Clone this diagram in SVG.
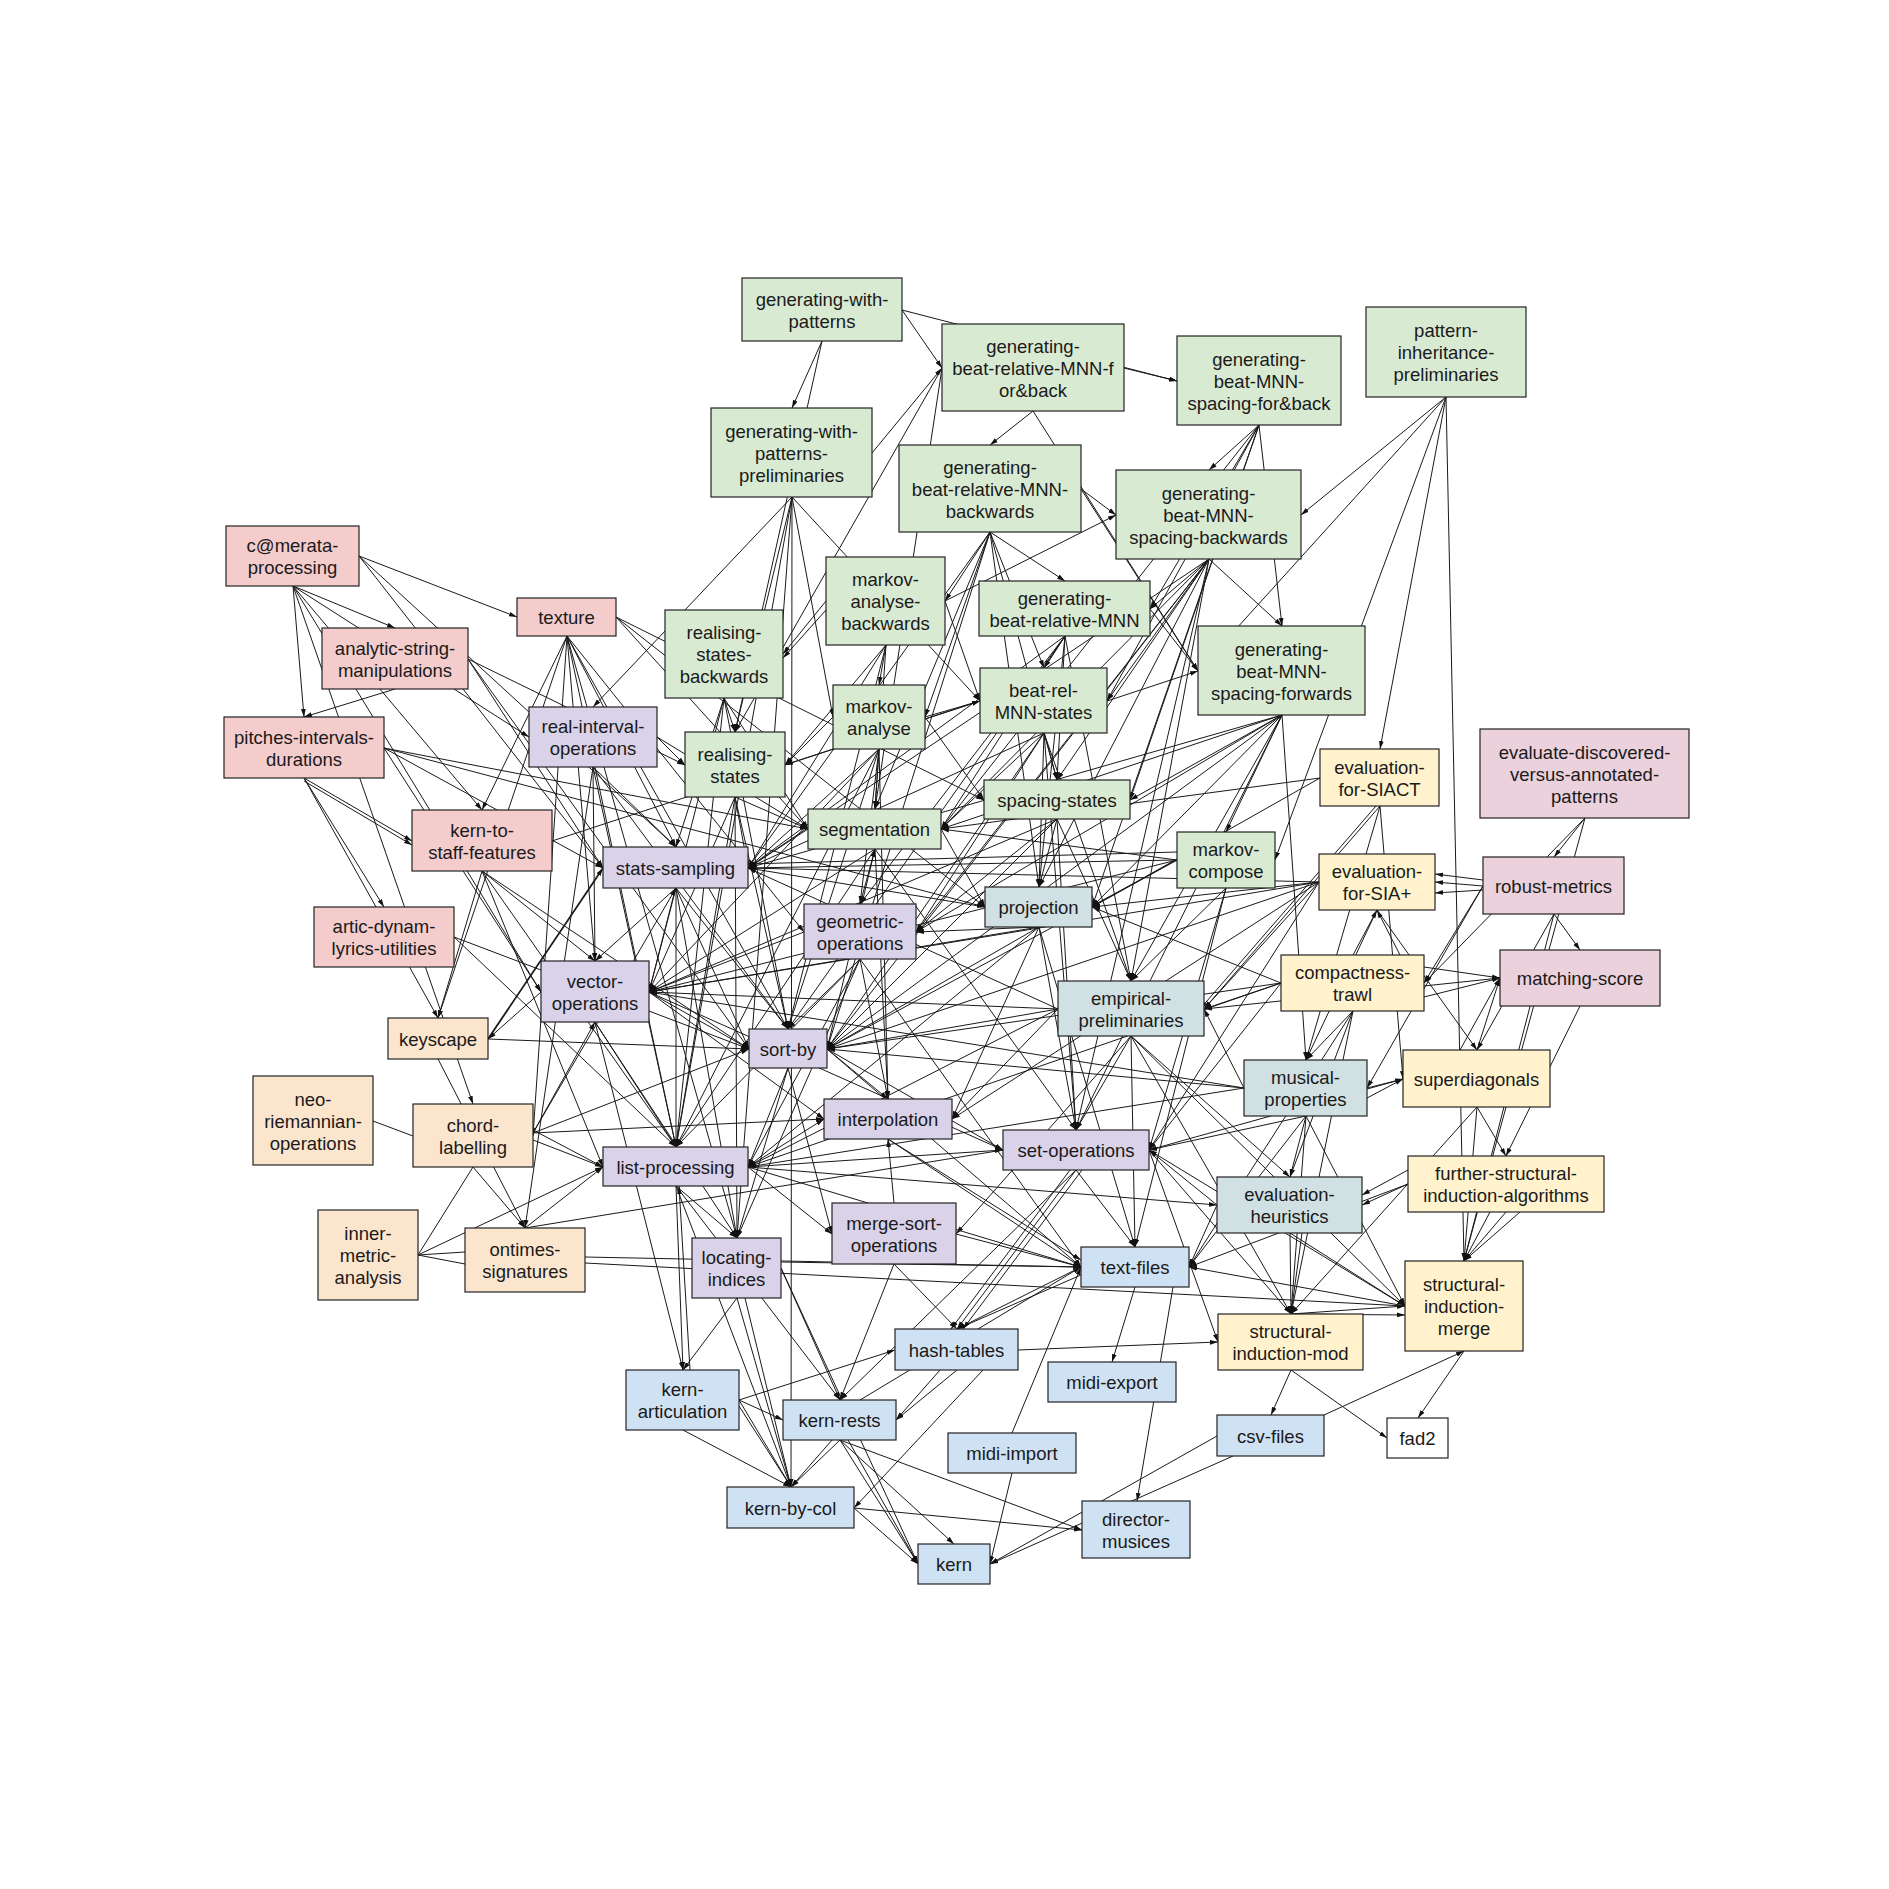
<svg xmlns="http://www.w3.org/2000/svg" width="1889" height="1889" viewBox="0 0 1889 1889">
<style>
  .nd rect { stroke: #222; stroke-width: 1.2; }
  .t { font-family: "Liberation Sans", Arial, sans-serif; font-size: 18.5px; fill: #1a1a1a; text-anchor: middle; }
  .g { fill: #d9ead3; } .r { fill: #f4cccc; } .p { fill: #d9d2e9; } .o { fill: #fce5cd; }
  .y { fill: #fff2cc; } .b { fill: #cfe2f3; } .s { fill: #d0e0e3; } .m { fill: #ead1dc; } .w { fill: #ffffff; }
  #connectors path { fill: none; stroke: #1a1a1a; stroke-width: 1; marker-end: url(#ah); }
  #connectors path.na { marker-end: none; }
  #connectors path.bold { stroke-width: 1.8; }
</style>
<defs>
  <marker id="ah" viewBox="0 0 10 10" refX="10" refY="5" markerWidth="8" markerHeight="8" markerUnits="userSpaceOnUse" orient="auto">
    <path d="M0,2 L10,5 L0,8 z" fill="#111"/>
  </marker>
</defs>
<rect x="0" y="0" width="1889" height="1889" fill="#ffffff"/>

<g id="connectors">
  <!-- generating cluster -->
  <path d="M822 341 L792 408"/>
  <path d="M822 341 L735 732"/>
  <path d="M902 310 L942 368"/>
  <path d="M902 310 L1177 381"/>
  <path d="M1124 368 L1177 381"/>
  <path d="M1033 411 L990 445"/>
  <path d="M1033 411 L1198 671"/>
  <path d="M872 453 L942 368"/>
  <path d="M942 368 L875 809"/>
  <path d="M942 368 L735 732"/>
  <path d="M792 497 L593 707"/>
  <path d="M792 497 L791 1487"/>
  <path d="M792 497 L833 717"/>
  <path d="M792 497 L980 701"/>
  <path d="M792 497 L735 732"/>
  <path d="M792 497 L737 1238"/>
  <path d="M792 497 L676 1147"/>
  <path d="M990 532 L1065 581"/>
  <path d="M990 532 L945 601"/>
  <path d="M990 532 L875 809"/>
  <path d="M990 532 L925 717"/>
  <path d="M990 532 L748 868"/>
  <path d="M990 532 L1044 668"/>
  <path d="M990 532 L1057 780"/>
  <path d="M990 532 L1039 887"/>
  <path d="M990 532 L827 1049"/>
  <path d="M1081 489 L1116 515"/>
  <path d="M1081 489 L1198 671"/>
  <path d="M945 601 L1116 515"/>
  <path d="M1259 425 L1209 470"/>
  <path d="M1259 425 L1282 626"/>
  <path d="M1259 425 L1150 609"/>
  <path d="M1259 425 L1107 701"/>
  <path d="M1259 425 L1130 800"/>
  <path d="M1259 425 L941 829"/>
  <path d="M1259 425 L1092 907"/>
  <path d="M1209 559 L1282 626"/>
  <path d="M1209 559 L941 829"/>
  <path d="M1209 559 L1039 887"/>
  <path d="M1209 559 L748 868"/>
  <path d="M1209 559 L827 1049"/>
  <path d="M1209 559 L916 932"/>
  <path d="M1209 559 L1131 981"/>
  <path d="M1209 559 L1076 1130"/>
  <path d="M1209 559 L1057 780"/>
  <path d="M1209 559 L1107 701"/>
  <path d="M1209 559 L1150 609"/>
  <path d="M1446 397 L1301 515"/>
  <path d="M1446 397 L1198 671"/>
  <path d="M1446 397 L1275 860"/>
  <path d="M1446 397 L1380 749"/>
  <path d="M1446 397 L1464 1261"/>
  <path d="M886 645 L879 685"/>
  <path d="M826 601 L783 654"/>
  <path d="M826 610 L783 658"/>
  <path d="M886 645 L875 809"/>
  <path d="M886 645 L748 868"/>
  <path d="M886 645 L785 765"/>
  <path d="M945 601 L980 701"/>
  <path d="M886 645 L788 1029"/>
  <path d="M1065 636 L1044 668"/>
  <path d="M1065 636 L1057 780"/>
  <path d="M1065 636 L1039 887"/>
  <path d="M1065 636 L941 829"/>
  <path d="M1065 636 L748 868"/>
  <path d="M1065 636 L860 904"/>
  <path d="M1065 636 L788 1029"/>
  <path d="M1065 636 L1131 981"/>
  <path d="M1150 609 L1198 671"/>
  <path d="M724 698 L735 732"/>
  <path d="M724 698 L676 847"/>
  <path d="M724 698 L808 829"/>
  <path d="M724 698 L649 992"/>
  <path d="M724 698 L676 1147"/>
  <path d="M724 698 L788 1029"/>
  <!-- left cluster -->
  <path d="M359 556 L517 617"/>
  <path d="M567 636 L482 810"/>
  <path d="M567 636 L438 1018"/>
  <path d="M567 636 L533 1136"/>
  <path d="M567 636 L595 961"/>
  <path d="M567 636 L676 1147"/>
  <path d="M567 636 L737 1238"/>
  <path d="M567 636 L676 847"/>
  <path d="M567 636 L788 1029"/>
  <path d="M567 636 L804 932"/>
  <path d="M616 617 L985 907"/>
  <path d="M616 617 L808 829"/>
  <path d="M616 617 L984 800"/>
  <path d="M359 556 L676 847"/>
  <path d="M293 586 L304 717"/>
  <path d="M293 586 L395 628"/>
  <path d="M293 586 L482 810"/>
  <path d="M293 586 L529 737"/>
  <path d="M293 586 L473 1104"/>
  <path d="M293 586 L541 992"/>
  <path d="M359 556 L603 868"/>
  <path d="M395 689 L304 717"/>
  <path d="M468 659 L603 868"/>
  <path d="M468 659 L685 765"/>
  <path d="M468 659 L749 1049"/>
  <path d="M384 748 L808 829"/>
  <path d="M384 748 L985 907"/>
  <path d="M384 748 L541 992"/>
  <path d="M384 748 L603 868"/>
  <path d="M304 778 L384 907"/>
  <path d="M304 778 L412 841"/>
  <path d="M304 781 L412 845"/>
  <path d="M304 778 L438 1018"/>
  <path d="M482 871 L438 1018"/>
  <path d="M482 871 L595 961"/>
  <path d="M482 871 L749 1049"/>
  <path d="M482 871 L676 1147"/>
  <path d="M482 871 L603 1167"/>
  <path d="M552 841 L980 701"/>
  <path d="M454 937 L676 1147"/>
  <path d="M454 937 L749 1049"/>
  <path class="bold" d="M488 1039 L603 868"/>
  <path d="M488 1039 L749 1049"/>
  <path d="M541 992 L488 1039"/>
  <path d="M438 1059 L525 1228"/>
  <path d="M593 767 L525 1228"/>
  <path d="M593 767 L676 847"/>
  <path d="M593 767 L676 1147"/>
  <path d="M593 767 L595 961"/>
  <path d="M593 767 L788 1029"/>
  <path d="M657 737 L808 829"/>
  <path d="M657 737 L685 765"/>
  <!-- middle cluster -->
  <path d="M833 717 L785 765"/>
  <path d="M980 701 L785 765"/>
  <path d="M735 797 L748 868"/>
  <path d="M735 797 L788 1029"/>
  <path d="M735 797 L649 992"/>
  <path d="M735 797 L676 1147"/>
  <path d="M735 797 L808 829"/>
  <path d="M735 797 L737 1238"/>
  <path d="M879 749 L875 809"/>
  <path d="M879 749 L748 868"/>
  <path d="M879 749 L788 1029"/>
  <path d="M879 749 L860 904"/>
  <path d="M879 749 L649 992"/>
  <path d="M879 749 L888 1099"/>
  <path d="M879 749 L676 1147"/>
  <path d="M925 717 L980 701"/>
  <path d="M925 717 L984 800"/>
  <path d="M1044 733 L941 829"/>
  <path d="M1044 733 L1057 780"/>
  <path d="M1044 733 L1039 887"/>
  <path d="M1044 733 L748 868"/>
  <path d="M1044 733 L827 1049"/>
  <path d="M1044 733 L916 932"/>
  <path d="M1044 733 L1131 981"/>
  <path d="M1044 733 L1076 1130"/>
  <path d="M1107 701 L1198 671"/>
  <path d="M1057 819 L1131 981"/>
  <path d="M1057 819 L1076 1130"/>
  <path d="M1057 819 L1039 887"/>
  <path d="M1057 819 L827 1049"/>
  <path d="M1057 819 L916 932"/>
  <path d="M1057 819 L649 992"/>
  <path d="M875 849 L827 1049"/>
  <path d="M875 849 L888 1099"/>
  <path d="M875 849 L649 992"/>
  <path d="M875 849 L676 1147"/>
  <path d="M875 849 L1076 1130"/>
  <path d="M860 904 L875 849"/>
  <path d="M941 829 L985 907"/>
  <path d="M808 829 L748 868"/>
  <path d="M1039 927 L827 1049"/>
  <path d="M1039 927 L916 932"/>
  <path d="M1039 927 L1076 1130"/>
  <path d="M1039 927 L952 1119"/>
  <path d="M1039 927 L649 992"/>
  <path d="M1039 927 L748 1167"/>
  <path d="M748 868 L985 907"/>
  <path d="M1177 860 L1092 907"/>
  <path d="M1319 882 L1092 907"/>
  <path d="M1281 983 L1092 907"/>
  <path d="M860 959 L788 1029"/>
  <path d="M860 959 L748 1167"/>
  <path d="M860 959 L888 1099"/>
  <path d="M860 959 L737 1238"/>
  <path d="M804 932 L649 992"/>
  <path d="M860 959 L676 1147"/>
  <path d="M1177 860 L748 868"/>
  <path d="M1177 852 L748 864"/>
  <path d="M1177 860 L941 829"/>
  <path d="M1177 860 L649 992"/>
  <path d="M1177 860 L827 1049"/>
  <path d="M1282 715 L1226 832"/>
  <path d="M1226 888 L1131 981"/>
  <path d="M1226 888 L1149 1150"/>
  <path d="M1226 888 L1135 1247"/>
  <path d="M1282 715 L1130 800"/>
  <path d="M1282 715 L1092 907"/>
  <path d="M1282 715 L1131 981"/>
  <path d="M1282 715 L941 829"/>
  <path d="M1282 715 L916 932"/>
  <path d="M1282 715 L827 1049"/>
  <path d="M1282 715 L1076 1130"/>
  <path d="M1282 715 L748 868"/>
  <path d="M1282 715 L1306 1060"/>
  <!-- evaluation cluster -->
  <path d="M1380 806 L1204 1009"/>
  <path d="M1376 806 L1200 1009"/>
  <path d="M1380 806 L1306 1060"/>
  <path d="M1380 806 L1403 1079"/>
  <path d="M1320 778 L941 829"/>
  <path d="M1320 778 L1092 907"/>
  <path d="M1319 882 L1204 1009"/>
  <path d="M1319 882 L748 868"/>
  <path d="M1319 882 L827 1049"/>
  <path d="M1319 882 L1149 1150"/>
  <path d="M1319 882 L952 1119"/>
  <path d="M1483 886 L1435 882"/>
  <path d="M1483 880 L1435 874"/>
  <path d="M1483 890 L1435 893"/>
  <path d="M1353 955 L1377 910"/>
  <path d="M1400 955 L1377 910"/>
  <path d="M1377 910 L1306 1060"/>
  <path d="M1377 910 L1477 1050"/>
  <path d="M1585 818 L1554 857"/>
  <path d="M1585 818 L1424 983"/>
  <path d="M1585 818 L1464 1261"/>
  <path d="M1554 914 L1580 950"/>
  <path d="M1554 914 L1477 1050"/>
  <path d="M1554 914 L1464 1261"/>
  <path d="M1483 886 L1424 983"/>
  <path d="M1483 886 L1367 1088"/>
  <path d="M1424 967 L1500 978"/>
  <path d="M1424 997 L1500 978"/>
  <path d="M1477 1050 L1500 978"/>
  <path d="M1460 1050 L1500 978"/>
  <path d="M1580 1006 L1506 1156"/>
  <path d="M1500 978 L1204 1009"/>
  <path d="M1281 983 L1204 1009"/>
  <path d="M1281 983 L1149 1150"/>
  <path d="M1353 1011 L1306 1060"/>
  <path d="M1353 1011 L1290 1177"/>
  <path d="M1353 1011 L1291 1314"/>
  <path d="M1353 1011 L1189 1267"/>
  <path d="M1131 1036 L1076 1130"/>
  <path d="M1131 1036 L1135 1247"/>
  <path d="M1058 1009 L827 1049"/>
  <path d="M1058 1009 L649 992"/>
  <path d="M1058 1009 L748 1167"/>
  <path d="M1058 1009 L952 1119"/>
  <path d="M1131 1036 L1291 1314"/>
  <path d="M1131 1036 L1290 1177"/>
  <path d="M1131 1036 L1405 1306"/>
  <path d="M1131 1036 L956 1234"/>
  <path d="M1367 1088 L1403 1079"/>
  <path d="M1367 1098 L1403 1079"/>
  <path d="M1306 1116 L1290 1177"/>
  <path d="M1306 1116 L1291 1314"/>
  <path d="M1306 1116 L1189 1267"/>
  <path d="M1306 1116 L1149 1150"/>
  <path d="M1244 1088 L827 1049"/>
  <path d="M1244 1088 L1204 1009"/>
  <path d="M1306 1116 L1405 1306"/>
  <path d="M1477 1107 L1464 1261"/>
  <path d="M1477 1107 L1506 1156"/>
  <path d="M1477 1107 L1291 1314"/>
  <path d="M1403 1079 L1149 1150"/>
  <path d="M1506 1212 L1464 1261"/>
  <path d="M1490 1212 L1464 1261"/>
  <path d="M1520 1212 L1464 1261"/>
  <path d="M1408 1184 L1362 1205"/>
  <path d="M1408 1170 L1362 1195"/>
  <path d="M1408 1184 L1189 1267"/>
  <path d="M1290 1233 L1291 1314"/>
  <path d="M1302 1233 L1291 1314"/>
  <path d="M1217 1205 L1189 1267"/>
  <path d="M1217 1205 L1149 1150"/>
  <path d="M1290 1233 L1405 1306"/>
  <path d="M1291 1370 L1271 1415"/>
  <path d="M1291 1370 L1387 1438"/>
  <path d="M1291 1314 L1405 1306"/>
  <path d="M1291 1314 L1405 1315"/>
  <path d="M1149 1150 L1218 1342"/>
  <path d="M1149 1150 L1291 1314"/>
  <path d="M1464 1351 L1418 1418"/>
  <path d="M1324 1415 L1464 1351"/>
  <path d="M1405 1306 L1189 1267"/>
  <path d="M1405 1306 L1149 1150"/>
  <!-- lower cluster -->
  <path d="M1135 1287 L1112 1362"/>
  <path d="M1173 1287 L1137 1501"/>
  <path d="M1081 1267 L957 1329"/>
  <path d="M1081 1275 L957 1329"/>
  <path d="M1076 1170 L957 1329"/>
  <path d="M1070 1170 L951 1329"/>
  <path d="M1082 1170 L963 1329"/>
  <path d="M748 1167 L1003 1150"/>
  <path d="M1076 1170 L1135 1247"/>
  <path d="M1076 1170 L840 1400"/>
  <path d="M894 1203 L888 1139"/>
  <path d="M888 1139 L1081 1267"/>
  <path d="M888 1139 L1081 1260"/>
  <path d="M748 1167 L824 1119"/>
  <path d="M676 1186 L683 1370"/>
  <path d="M690 1370 L679 1186"/>
  <path d="M676 1186 L737 1238"/>
  <path d="M676 1186 L791 1487"/>
  <path d="M676 1186 L840 1400"/>
  <path d="M748 1167 L1081 1267"/>
  <path d="M748 1167 L832 1234"/>
  <path d="M748 1167 L1217 1205"/>
  <path d="M737 1298 L791 1487"/>
  <path d="M745 1298 L791 1487"/>
  <path d="M737 1298 L683 1370"/>
  <path d="M781 1268 L918 1564"/>
  <path d="M781 1268 L840 1400"/>
  <path d="M781 1262 L1081 1267"/>
  <path d="M894 1264 L957 1329"/>
  <path d="M894 1264 L840 1400"/>
  <path d="M956 1234 L1081 1267"/>
  <path d="M739 1400 L895 1350"/>
  <path d="M1018 1350 L1218 1342"/>
  <path d="M957 1370 L896 1420"/>
  <path d="M940 1370 L896 1420"/>
  <path d="M983 1370 L854 1508"/>
  <path d="M739 1400 L791 1487"/>
  <path d="M739 1406 L791 1487"/>
  <path d="M739 1400 L783 1420"/>
  <path d="M683 1430 L791 1487"/>
  <path d="M840 1440 L791 1487"/>
  <path d="M832 1440 L791 1487"/>
  <path d="M840 1440 L918 1564"/>
  <path d="M848 1440 L918 1564"/>
  <path d="M840 1440 L954 1544"/>
  <path d="M840 1440 L1082 1530"/>
  <path d="M854 1508 L1082 1530"/>
  <path d="M854 1508 L918 1564"/>
  <path d="M1012 1473 L990 1564"/>
  <path d="M1012 1433 L1081 1267"/>
  <path d="M1217 1436 L990 1564"/>
  <path d="M1233 1456 L990 1564"/>
  <path d="M788 1068 L748 1167"/>
  <path d="M788 1068 L737 1238"/>
  <path d="M827 1049 L888 1099"/>
  <path d="M827 1049 L1003 1150"/>
  <path d="M827 1049 L1081 1267"/>
  <path d="M788 1068 L832 1234"/>
  <path d="M649 992 L749 1049"/>
  <path d="M649 992 L824 1119"/>
  <path d="M649 992 L1003 1150"/>
  <path d="M595 1022 L676 1147"/>
  <path d="M595 1022 L737 1238"/>
  <path d="M595 1022 L683 1370"/>
  <path d="M676 888 L649 992"/>
  <path d="M676 888 L676 1147"/>
  <path d="M676 888 L788 1029"/>
  <path d="M676 888 L749 1049"/>
  <path d="M676 888 L737 1238"/>
  <path d="M676 888 L595 961"/>
  <path d="M1244 1088 L748 1167"/>
  <path d="M1244 1088 L649 992"/>
  <path d="M1281 983 L748 1167"/>
  <path d="M1281 983 L827 1049"/>
  <path d="M1319 882 L649 992"/>
  <path d="M1058 1009 L748 868"/>
  <path d="M860 959 L1081 1267"/>
  <path d="M860 1400 L1081 1267"/>
  <path d="M1039 927 L1135 1247"/>
  <!-- chord, onset and metre links -->
  <path d="M533 1130 L603 1167"/>
  <path d="M533 1140 L603 1167"/>
  <path d="M533 1133 L595 1022"/>
  <path d="M533 1133 L676 888"/>
  <path d="M533 1133 L749 1049"/>
  <path d="M533 1133 L824 1119"/>
  <path d="M473 1167 L525 1228"/>
  <path class="na" d="M473 1167 L418 1255"/>
  <path class="na" d="M418 1255 L465 1252"/>
  <path class="na" d="M418 1255 L465 1264"/>
  <path d="M418 1255 L603 1167"/>
  <path d="M525 1228 L603 1167"/>
  <path class="na" d="M525 1228 L1003 1150"/>
  <path class="na" d="M585 1257 L1081 1267"/>
  <path class="na" d="M585 1263 L1405 1306"/>
  <path class="na" d="M373 1121 L413 1136"/>
</g>

<g id="n-generating-with-patterns" class="nd"><rect class="g" x="742" y="278" width="160" height="63"/><text class="t" x="822" y="305.5"><tspan x="822">generating-with-</tspan><tspan x="822" dy="22">patterns</tspan></text></g>
<g id="n-generating-beat-relative-MNN-for-back" class="nd"><rect class="g" x="942" y="324" width="182" height="87"/><text class="t" x="1033" y="352.5"><tspan x="1033">generating-</tspan><tspan x="1033" dy="22">beat-relative-MNN-f</tspan><tspan x="1033" dy="22">or&amp;back</tspan></text></g>
<g id="n-generating-beat-MNN-spacing-for-back" class="nd"><rect class="g" x="1177" y="336" width="164" height="89"/><text class="t" x="1259" y="365.5"><tspan x="1259">generating-</tspan><tspan x="1259" dy="22">beat-MNN-</tspan><tspan x="1259" dy="22">spacing-for&amp;back</tspan></text></g>
<g id="n-pattern-inheritance-preliminaries" class="nd"><rect class="g" x="1366" y="307" width="160" height="90"/><text class="t" x="1446" y="337"><tspan x="1446">pattern-</tspan><tspan x="1446" dy="22">inheritance-</tspan><tspan x="1446" dy="22">preliminaries</tspan></text></g>
<g id="n-generating-with-patterns-preliminaries" class="nd"><rect class="g" x="711" y="408" width="161" height="89"/><text class="t" x="791.5" y="437.5"><tspan x="791.5">generating-with-</tspan><tspan x="791.5" dy="22">patterns-</tspan><tspan x="791.5" dy="22">preliminaries</tspan></text></g>
<g id="n-generating-beat-relative-MNN-backwards" class="nd"><rect class="g" x="899" y="445" width="182" height="87"/><text class="t" x="990" y="473.5"><tspan x="990">generating-</tspan><tspan x="990" dy="22">beat-relative-MNN-</tspan><tspan x="990" dy="22">backwards</tspan></text></g>
<g id="n-generating-beat-MNN-spacing-backwards" class="nd"><rect class="g" x="1116" y="470" width="185" height="89"/><text class="t" x="1208.5" y="499.5"><tspan x="1208.5">generating-</tspan><tspan x="1208.5" dy="22">beat-MNN-</tspan><tspan x="1208.5" dy="22">spacing-backwards</tspan></text></g>
<g id="n-camerata-processing" class="nd"><rect class="r" x="226" y="526" width="133" height="60"/><text class="t" x="292.5" y="552"><tspan x="292.5">c@merata-</tspan><tspan x="292.5" dy="22">processing</tspan></text></g>
<g id="n-texture" class="nd"><rect class="r" x="517" y="598" width="99" height="38"/><text class="t" x="566.5" y="624">texture</text></g>
<g id="n-analytic-string-manipulations" class="nd"><rect class="r" x="322" y="628" width="146" height="61"/><text class="t" x="395" y="654.5"><tspan x="395">analytic-string-</tspan><tspan x="395" dy="22">manipulations</tspan></text></g>
<g id="n-markov-analyse-backwards" class="nd"><rect class="g" x="826" y="557" width="119" height="88"/><text class="t" x="885.5" y="586"><tspan x="885.5">markov-</tspan><tspan x="885.5" dy="22">analyse-</tspan><tspan x="885.5" dy="22">backwards</tspan></text></g>
<g id="n-generating-beat-relative-MNN" class="nd"><rect class="g" x="979" y="581" width="171" height="55"/><text class="t" x="1064.5" y="604.5"><tspan x="1064.5">generating-</tspan><tspan x="1064.5" dy="22">beat-relative-MNN</tspan></text></g>
<g id="n-realising-states-backwards" class="nd"><rect class="g" x="665" y="610" width="118" height="88"/><text class="t" x="724" y="639"><tspan x="724">realising-</tspan><tspan x="724" dy="22">states-</tspan><tspan x="724" dy="22">backwards</tspan></text></g>
<g id="n-generating-beat-MNN-spacing-forwards" class="nd"><rect class="g" x="1198" y="626" width="167" height="89"/><text class="t" x="1281.5" y="655.5"><tspan x="1281.5">generating-</tspan><tspan x="1281.5" dy="22">beat-MNN-</tspan><tspan x="1281.5" dy="22">spacing-forwards</tspan></text></g>
<g id="n-pitches-intervals-durations" class="nd"><rect class="r" x="224" y="717" width="160" height="61"/><text class="t" x="304" y="743.5"><tspan x="304">pitches-intervals-</tspan><tspan x="304" dy="22">durations</tspan></text></g>
<g id="n-real-interval-operations" class="nd"><rect class="p" x="529" y="707" width="128" height="60"/><text class="t" x="593" y="733"><tspan x="593">real-interval-</tspan><tspan x="593" dy="22">operations</tspan></text></g>
<g id="n-markov-analyse" class="nd"><rect class="g" x="833" y="685" width="92" height="64"/><text class="t" x="879" y="713"><tspan x="879">markov-</tspan><tspan x="879" dy="22">analyse</tspan></text></g>
<g id="n-beat-rel-MNN-states" class="nd"><rect class="g" x="980" y="668" width="127" height="65"/><text class="t" x="1043.5" y="696.5"><tspan x="1043.5">beat-rel-</tspan><tspan x="1043.5" dy="22">MNN-states</tspan></text></g>
<g id="n-realising-states" class="nd"><rect class="g" x="685" y="732" width="100" height="65"/><text class="t" x="735" y="760.5"><tspan x="735">realising-</tspan><tspan x="735" dy="22">states</tspan></text></g>
<g id="n-evaluation-for-SIACT" class="nd"><rect class="y" x="1320" y="749" width="119" height="57"/><text class="t" x="1379.5" y="773.5"><tspan x="1379.5">evaluation-</tspan><tspan x="1379.5" dy="22">for-SIACT</tspan></text></g>
<g id="n-evaluate-discovered-versus-annotated-patterns" class="nd"><rect class="m" x="1480" y="729" width="209" height="89"/><text class="t" x="1584.5" y="758.5"><tspan x="1584.5">evaluate-discovered-</tspan><tspan x="1584.5" dy="22">versus-annotated-</tspan><tspan x="1584.5" dy="22">patterns</tspan></text></g>
<g id="n-spacing-states" class="nd"><rect class="g" x="984" y="780" width="146" height="39"/><text class="t" x="1057" y="806.5">spacing-states</text></g>
<g id="n-segmentation" class="nd"><rect class="g" x="808" y="809" width="133" height="40"/><text class="t" x="874.5" y="836">segmentation</text></g>
<g id="n-kern-to-staff-features" class="nd"><rect class="r" x="412" y="810" width="140" height="61"/><text class="t" x="482" y="836.5"><tspan x="482">kern-to-</tspan><tspan x="482" dy="22">staff-features</tspan></text></g>
<g id="n-stats-sampling" class="nd"><rect class="p" x="603" y="847" width="145" height="41"/><text class="t" x="675.5" y="874.5">stats-sampling</text></g>
<g id="n-markov-compose" class="nd"><rect class="g" x="1177" y="832" width="98" height="56"/><text class="t" x="1226" y="856"><tspan x="1226">markov-</tspan><tspan x="1226" dy="22">compose</tspan></text></g>
<g id="n-evaluation-for-SIA-plus" class="nd"><rect class="y" x="1319" y="854" width="116" height="56"/><text class="t" x="1377" y="878"><tspan x="1377">evaluation-</tspan><tspan x="1377" dy="22">for-SIA+</tspan></text></g>
<g id="n-robust-metrics" class="nd"><rect class="m" x="1483" y="857" width="141" height="57"/><text class="t" x="1553.5" y="892.5">robust-metrics</text></g>
<g id="n-projection" class="nd"><rect class="s" x="985" y="887" width="107" height="40"/><text class="t" x="1038.5" y="914">projection</text></g>
<g id="n-geometric-operations" class="nd"><rect class="p" x="804" y="904" width="112" height="55"/><text class="t" x="860" y="927.5"><tspan x="860">geometric-</tspan><tspan x="860" dy="22">operations</tspan></text></g>
<g id="n-artic-dynam-lyrics-utilities" class="nd"><rect class="r" x="314" y="907" width="140" height="60"/><text class="t" x="384" y="933"><tspan x="384">artic-dynam-</tspan><tspan x="384" dy="22">lyrics-utilities</tspan></text></g>
<g id="n-matching-score" class="nd"><rect class="m" x="1500" y="950" width="160" height="56"/><text class="t" x="1580" y="985">matching-score</text></g>
<g id="n-compactness-trawl" class="nd"><rect class="y" x="1281" y="955" width="143" height="56"/><text class="t" x="1352.5" y="979"><tspan x="1352.5">compactness-</tspan><tspan x="1352.5" dy="22">trawl</tspan></text></g>
<g id="n-vector-operations" class="nd"><rect class="p" x="541" y="961" width="108" height="61"/><text class="t" x="595" y="987.5"><tspan x="595">vector-</tspan><tspan x="595" dy="22">operations</tspan></text></g>
<g id="n-empirical-preliminaries" class="nd"><rect class="s" x="1058" y="981" width="146" height="55"/><text class="t" x="1131" y="1004.5"><tspan x="1131">empirical-</tspan><tspan x="1131" dy="22">preliminaries</tspan></text></g>
<g id="n-keyscape" class="nd"><rect class="o" x="388" y="1018" width="100" height="41"/><text class="t" x="438" y="1045.5">keyscape</text></g>
<g id="n-sort-by" class="nd"><rect class="p" x="749" y="1029" width="78" height="39"/><text class="t" x="788" y="1055.5">sort-by</text></g>
<g id="n-musical-properties" class="nd"><rect class="s" x="1244" y="1060" width="123" height="56"/><text class="t" x="1305.5" y="1084"><tspan x="1305.5">musical-</tspan><tspan x="1305.5" dy="22">properties</tspan></text></g>
<g id="n-superdiagonals" class="nd"><rect class="y" x="1403" y="1050" width="147" height="57"/><text class="t" x="1476.5" y="1085.5">superdiagonals</text></g>
<g id="n-neo-riemannian-operations" class="nd"><rect class="o" x="253" y="1076" width="120" height="89"/><text class="t" x="313" y="1105.5"><tspan x="313">neo-</tspan><tspan x="313" dy="22">riemannian-</tspan><tspan x="313" dy="22">operations</tspan></text></g>
<g id="n-chord-labelling" class="nd"><rect class="o" x="413" y="1104" width="120" height="63"/><text class="t" x="473" y="1131.5"><tspan x="473">chord-</tspan><tspan x="473" dy="22">labelling</tspan></text></g>
<g id="n-interpolation" class="nd"><rect class="p" x="824" y="1099" width="128" height="40"/><text class="t" x="888" y="1126">interpolation</text></g>
<g id="n-set-operations" class="nd"><rect class="p" x="1003" y="1130" width="146" height="40"/><text class="t" x="1076" y="1157">set-operations</text></g>
<g id="n-list-processing" class="nd"><rect class="p" x="603" y="1147" width="145" height="39"/><text class="t" x="675.5" y="1173.5">list-processing</text></g>
<g id="n-further-structural-induction-algorithms" class="nd"><rect class="y" x="1408" y="1156" width="196" height="56"/><text class="t" x="1506" y="1180"><tspan x="1506">further-structural-</tspan><tspan x="1506" dy="22">induction-algorithms</tspan></text></g>
<g id="n-evaluation-heuristics" class="nd"><rect class="s" x="1217" y="1177" width="145" height="56"/><text class="t" x="1289.5" y="1201"><tspan x="1289.5">evaluation-</tspan><tspan x="1289.5" dy="22">heuristics</tspan></text></g>
<g id="n-merge-sort-operations" class="nd"><rect class="p" x="832" y="1203" width="124" height="61"/><text class="t" x="894" y="1229.5"><tspan x="894">merge-sort-</tspan><tspan x="894" dy="22">operations</tspan></text></g>
<g id="n-inner-metric-analysis" class="nd"><rect class="o" x="318" y="1210" width="100" height="90"/><text class="t" x="368" y="1240"><tspan x="368">inner-</tspan><tspan x="368" dy="22">metric-</tspan><tspan x="368" dy="22">analysis</tspan></text></g>
<g id="n-ontimes-signatures" class="nd"><rect class="o" x="465" y="1228" width="120" height="64"/><text class="t" x="525" y="1256"><tspan x="525">ontimes-</tspan><tspan x="525" dy="22">signatures</tspan></text></g>
<g id="n-locating-indices" class="nd"><rect class="p" x="692" y="1238" width="89" height="60"/><text class="t" x="736.5" y="1264"><tspan x="736.5">locating-</tspan><tspan x="736.5" dy="22">indices</tspan></text></g>
<g id="n-text-files" class="nd"><rect class="b" x="1081" y="1247" width="108" height="40"/><text class="t" x="1135" y="1274">text-files</text></g>
<g id="n-structural-induction-merge" class="nd"><rect class="y" x="1405" y="1261" width="118" height="90"/><text class="t" x="1464" y="1291"><tspan x="1464">structural-</tspan><tspan x="1464" dy="22">induction-</tspan><tspan x="1464" dy="22">merge</tspan></text></g>
<g id="n-hash-tables" class="nd"><rect class="b" x="895" y="1329" width="123" height="41"/><text class="t" x="956.5" y="1356.5">hash-tables</text></g>
<g id="n-structural-induction-mod" class="nd"><rect class="y" x="1218" y="1314" width="145" height="56"/><text class="t" x="1290.5" y="1338"><tspan x="1290.5">structural-</tspan><tspan x="1290.5" dy="22">induction-mod</tspan></text></g>
<g id="n-midi-export" class="nd"><rect class="b" x="1048" y="1362" width="128" height="40"/><text class="t" x="1112" y="1389">midi-export</text></g>
<g id="n-kern-articulation" class="nd"><rect class="b" x="626" y="1370" width="113" height="60"/><text class="t" x="682.5" y="1396"><tspan x="682.5">kern-</tspan><tspan x="682.5" dy="22">articulation</tspan></text></g>
<g id="n-kern-rests" class="nd"><rect class="b" x="783" y="1400" width="113" height="40"/><text class="t" x="839.5" y="1427">kern-rests</text></g>
<g id="n-csv-files" class="nd"><rect class="b" x="1217" y="1415" width="107" height="41"/><text class="t" x="1270.5" y="1442.5">csv-files</text></g>
<g id="n-fad2" class="nd"><rect class="w" x="1387" y="1418" width="61" height="40"/><text class="t" x="1417.5" y="1445">fad2</text></g>
<g id="n-midi-import" class="nd"><rect class="b" x="948" y="1433" width="128" height="40"/><text class="t" x="1012" y="1460">midi-import</text></g>
<g id="n-kern-by-col" class="nd"><rect class="b" x="727" y="1487" width="127" height="41"/><text class="t" x="790.5" y="1514.5">kern-by-col</text></g>
<g id="n-director-musices" class="nd"><rect class="b" x="1082" y="1501" width="108" height="57"/><text class="t" x="1136" y="1525.5"><tspan x="1136">director-</tspan><tspan x="1136" dy="22">musices</tspan></text></g>
<g id="n-kern" class="nd"><rect class="b" x="918" y="1544" width="72" height="40"/><text class="t" x="954" y="1571">kern</text></g>
</svg>
